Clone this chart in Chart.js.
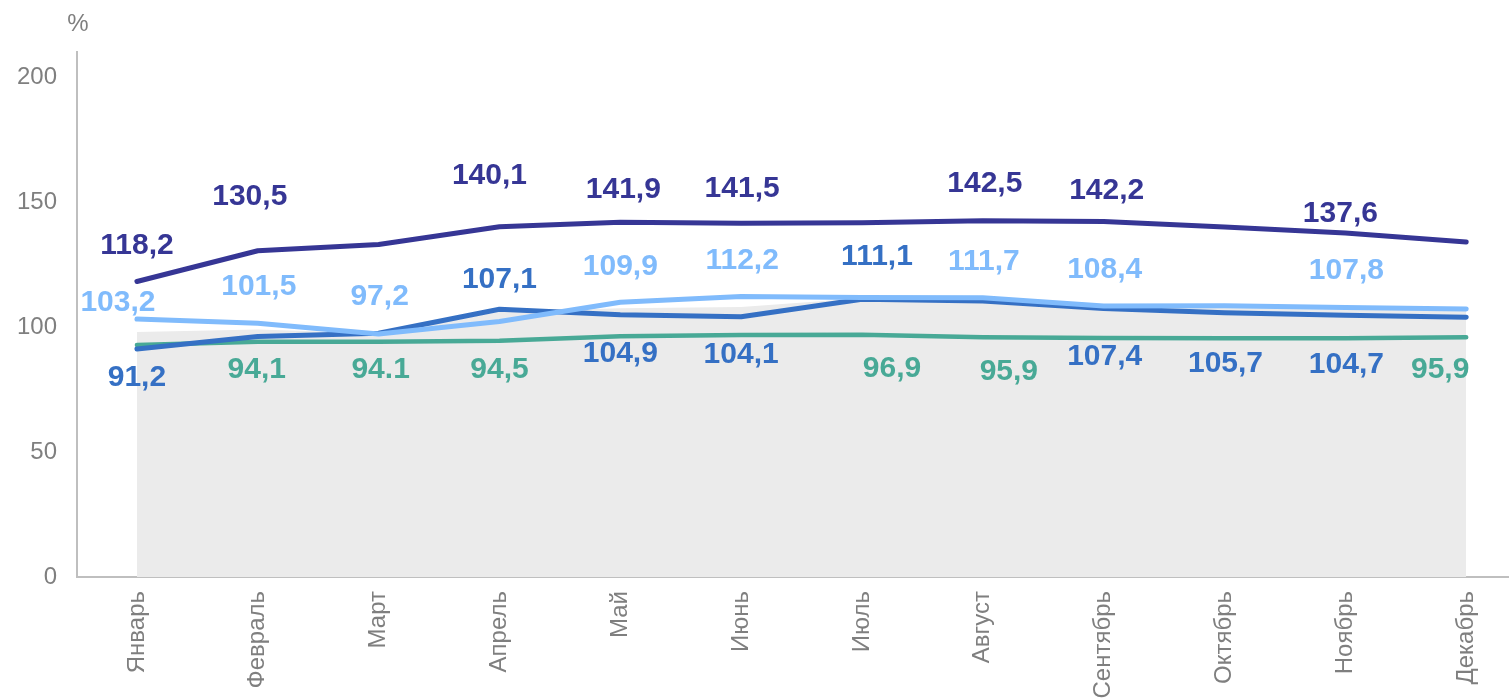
<!DOCTYPE html>
<html>
<head>
<meta charset="utf-8">
<script src="https://cdn.jsdelivr.net/npm/chart.js@4"></script>
<style>
html,body{margin:0;padding:0;background:#fff;overflow:hidden;}
#wrap{width:1509px;height:698px;position:relative;}
</style>
</head>
<body>
<div id="wrap"><canvas id="chart"></canvas></div>
<script>
// data
var months=['Январь','Февраль','Март','Апрель','Май','Июнь','Июль','Август','Сентябрь','Октябрь','Ноябрь','Декабрь'];
var yTicks=[0,50,100,150,200];
var navy=[118.2,130.5,133.0,140.1,141.9,141.5,141.7,142.5,142.2,140.0,137.6,134.0];
var lightBlue=[103.2,101.5,97.2,102.2,109.9,112.2,111.8,111.7,108.4,108.5,107.8,107.2];
var blue=[91.2,96.2,97.5,107.1,104.9,104.1,111.1,110.4,107.4,105.7,104.7,103.9];
var teal=[92.8,94.1,94.1,94.5,96.3,96.8,96.9,95.9,95.6,95.5,95.5,95.9];
var grayArea=[98.0,99.0,97.5,106.0,107.5,108.0,111.5,111.0,108.0,108.0,107.5,107.0];

// label texts (as printed on the chart)
var navyLabels=['118,2','130,5','','140,1','141,9','141,5','','142,5','142,2','','137,6',''];
var lightBlueLabels=['103,2','101,5','97,2','','109,9','112,2','','111,7','108,4','','107,8',''];
var blueLabels=['91,2','','','107,1','104,9','104,1','111,1','','107,4','105,7','104,7',''];
var tealLabels=['','94,1','94.1','94,5','','','96,9','95,9','','','','95,9'];

// label offsets from the point (style)
var navyOff=[[0,-36],[-8,-54],null,[-10,-51],[3,-33],[1,-35],null,[2,-37],[3,-31],null,[-5,-19],null];
var lightBlueOff=[[-19,-16],[1,-37],[1,-37],null,[0,-36],[1,-36],null,[1,-36],[1,-36],null,[1,-37],null];
var blueOff=[[0,29],null,null,[0,-30],[0,39],[0,38],[15,-43],null,[1,48],[1,51],[1,49],null];
var tealOff=[null,[-1,28],[2,28],[0,29],null,null,[30,34],[26,34],null,null,null,[-26,32]];

var COLORS={navy:'#363695',lightBlue:'#80bbfc',blue:'#3570c4',teal:'#48a996',gray:'#ebebeb',axis:'#bfbfbf',text:'#7f7f7f'};
var FONT='"Liberation Sans", Arial, sans-serif';

function toPoints(arr){
	var out=[];
	for(var i=0;i<arr.length;i++){
		out.push({x:i,y:arr[i]});
	}
	return out;
}

function lineSet(label,values,color,width,texts,offs){
	return {
		label:label,
		data:toPoints(values),
		borderColor:color,
		backgroundColor:color,
		borderWidth:width,
		pointRadius:0,
		tension:0,
		fill:false,
		borderCapStyle:'round',
		borderJoinStyle:'round',
		labelTexts:texts,
		labelOffsets:offs
	};
}

var valueLabels={
	id:'valueLabels',
	afterDatasetsDraw:function(chart){
		var ctx=chart.ctx;
		ctx.save();
		ctx.font='bold 30px '+FONT;
		ctx.textAlign='center';
		ctx.textBaseline='middle';
		chart.data.datasets.forEach(function(ds,di){
			if(!ds.labelTexts) return;
			var meta=chart.getDatasetMeta(di);
			for(var i=0;i<meta.data.length;i++){
				var t=ds.labelTexts[i];
				var o=ds.labelOffsets[i];
				if(!t||!o) continue;
				var p=meta.data[i];
				ctx.fillStyle=ds.borderColor;
				ctx.fillText(t,p.x+o[0],p.y+o[1]);
			}
		});
		// unit sign above the axis
		ctx.font='24px '+FONT;
		ctx.fillStyle=COLORS.text;
		ctx.fillText('%',chart.chartArea.left+1,24);
		ctx.restore();
	}
};

var ctx=document.getElementById('chart');
ctx.width=1509;ctx.height=698;
var mc=new Chart(ctx,{
	type:'line',
	data:{
		datasets:[
			lineSet('navy',navy,COLORS.navy,5,navyLabels,navyOff),
			lineSet('lightBlue',lightBlue,COLORS.lightBlue,5,lightBlueLabels,lightBlueOff),
			lineSet('blue',blue,COLORS.blue,5,blueLabels,blueOff),
			lineSet('teal',teal,COLORS.teal,4.5,tealLabels,tealOff),
			{
				label:'area',
				data:toPoints(grayArea),
				borderWidth:0,
				borderColor:'rgba(0,0,0,0)',
				backgroundColor:COLORS.gray,
				pointRadius:0,
				tension:0,
				fill:'origin'
			}
		]
	},
	options:{
		responsive:false,
		animation:false,
		layout:{padding:{top:52,left:0,right:0,bottom:0}},
		plugins:{legend:{display:false},tooltip:{enabled:false}},
		scales:{
			x:{
				type:'linear',
				min:-0.496,
				max:11.347,
				grid:{display:false,drawTicks:false},
				border:{display:true,color:COLORS.axis,width:2},
				afterBuildTicks:function(scale){
					scale.ticks=months.map(function(m,i){return {value:i};});
				},
				afterFit:function(scale){scale.height=121;},
				ticks:{
					autoSkip:false,
					minRotation:90,
					maxRotation:90,
					padding:14,
					color:COLORS.text,
					font:{family:FONT,size:24},
					callback:function(v){return months[v];}
				}
			},
			y:{
				min:0,
				max:210,
				grid:{display:false,drawTicks:false},
				border:{display:true,color:COLORS.axis,width:2},
				afterBuildTicks:function(scale){
					scale.ticks=yTicks.map(function(v){return {value:v};});
				},
				afterFit:function(scale){scale.width=77;},
				ticks:{
					padding:20,
					color:COLORS.text,
					font:{family:FONT,size:24}
				}
			}
		}
	},
	plugins:[valueLabels]
});
</script>
</body>
</html>
